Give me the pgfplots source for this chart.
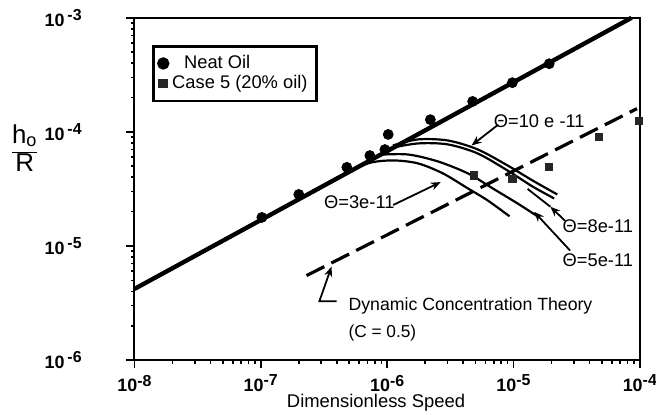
\documentclass[border=0pt]{standalone}
\usepackage{pgfplots}
\pgfplotsset{compat=1.18}
\usepackage{fontspec}
\setmainfont{Liberation Sans}
\usetikzlibrary{arrows.meta}

\newcommand{\fa}{\fontsize{9.2}{11}\selectfont}
\newcommand{\tx}[1]{10\raisebox{0.6ex}{\fontsize{8}{9}\selectfont#1}}
\newcommand{\ty}[1]{10\,\raisebox{0.6ex}{\fontsize{8}{9}\selectfont#1}}

\begin{document}
\begin{tikzpicture}
\begin{axis}[
    width=254pt, height=172pt, scale only axis,
    xmode=log, ymode=log,
    xmin=1e-8, xmax=1e-4, ymin=1e-6, ymax=1e-3,
    axis line style={line width=1pt},
    xtick={1e-8,1e-7,1e-6,1e-5,1e-4},
    xticklabels={\tx{-8},\tx{-7},\tx{-6},\tx{-5},\tx{-4}},
    minor xtick={2e-8,3e-8,4e-8,5e-8,6e-8,7e-8,8e-8,9e-8,
                 2e-7,3e-7,4e-7,5e-7,6e-7,7e-7,8e-7,9e-7,
                 2e-6,3e-6,4e-6,5e-6,6e-6,7e-6,8e-6,9e-6,
                 2e-5,3e-5,4e-5,5e-5,6e-5,7e-5,8e-5,9e-5},
    ytick={1e-6,1e-5,1e-4,1e-3},
    yticklabels={\ty{-6},\ty{-5},\ty{-4},\ty{-3}},
    minor ytick={2e-6,3e-6,4e-6,5e-6,6e-6,7e-6,8e-6,9e-6,
                 2e-5,3e-5,4e-5,5e-5,6e-5,7e-5,8e-5,9e-5,
                 2e-4,3e-4,4e-4,5e-4,6e-4,7e-4,8e-4,9e-4},
    tick label style={font=\fontsize{9}{10}\selectfont\bfseries},
    yticklabel style={xshift=-19pt},
    tick align=outside, xtick pos=bottom, ytick pos=left,
    major tick length=4pt, minor tick length=1.8pt,
    every tick/.style={black, line width=0.8pt},
    legend style={at={(rel axis cs:0.035,0.92)}, anchor=north west,
        draw=black, line width=1.2pt, inner sep=2.5pt, row sep=-2pt,
        font=\fa},
    legend cell align=left,
    clip=false,
]
% theory line for neat oil
\addplot[black, line width=2.2pt, forget plot] coordinates {(1e-8,4.2e-6) (8.6e-5,1e-3)};
% dynamic concentration theory
\addplot[black, line width=1.6pt, dash pattern=on 10pt off 4pt, forget plot]
    coordinates {(2.3e-7,5.5e-6) (9.5e-5,1.6e-4)};
% theta curves
\addplot[black, line width=1.1pt, smooth, forget plot] coordinates {
    (4.1e-7,4.0e-5) (7.08e-7,5.3e-5) (1.11e-6,5.62e-5) (1.75e-6,5.3e-5)
    (2.76e-6,4.33e-5) (4.35e-6,3.2e-5) (6.24e-6,2.51e-5) (9.31e-6,1.82e-5)};
\addplot[black, line width=1.1pt, smooth, forget plot] coordinates {
    (8.49e-7,6.3e-5) (1.46e-6,6.34e-5) (2.52e-6,5.51e-5) (4.35e-6,4.33e-5)
    (6.84e-6,3.2e-5) (1.07e-5,2.37e-5) (1.55e-5,1.82e-5)};
\addplot[black, line width=1.1pt, smooth, forget plot] coordinates {
    (1.02e-6,7.16e-5) (1.75e-6,7.92e-5) (3.02e-6,7.77e-5) (5.21e-6,6.47e-5)
    (8.97e-6,4.59e-5) (1.41e-5,3.33e-5) (2.1e-5,2.61e-5)};
\addplot[black, line width=1.1pt, smooth, forget plot] coordinates {
    (1.11e-6,7.6e-5) (1.75e-6,8.59e-5) (3.02e-6,8.41e-5) (5.21e-6,7.02e-5)
    (8.97e-6,5.08e-5) (1.41e-5,3.76e-5) (2.22e-5,2.83e-5)};
% data
\addplot[only marks, mark=*, mark size=2.5pt, black] coordinates {
    (1.02e-7,1.78e-5) (2.0e-7,2.83e-5) (4.8e-7,4.89e-5) (7.3e-7,6.2e-5)
    (9.6e-7,7.0e-5) (1.02e-6,9.5e-5) (2.2e-6,1.28e-4) (4.75e-6,1.85e-4)
    (9.8e-6,2.7e-4) (1.92e-5,3.96e-4)};
\addlegendentry{\hspace{6pt}Neat Oil}
\addplot[only marks, mark=square*, mark size=1.8pt, black!85] coordinates {
    (4.84e-6,4.16e-5) (9.8e-6,3.9e-5) (1.92e-5,4.97e-5) (4.75e-5,9.1e-5)
    (9.8e-5,1.25e-4)};
\addlegendentry{Case 5 (20\% oil)}

% annotations
\node[font=\fa] at (rel axis cs:0.801,0.698) {Θ=10 e -11};
\draw[-{Stealth[length=5pt,width=4pt]}, line width=0.9pt]
    (rel axis cs:0.720,0.688) -- (rel axis cs:0.667,0.627);
\node[font=\fa] at (rel axis cs:0.445,0.462) {Θ=3e-11};
\draw[-{Stealth[length=5pt,width=4pt]}, line width=0.9pt]
    (rel axis cs:0.512,0.453) -- (rel axis cs:0.606,0.520);
\node[font=\fa] at (rel axis cs:0.917,0.392) {Θ=8e-11};
\draw[-{Stealth[length=5pt,width=4pt]}, line width=0.9pt]
    (rel axis cs:0.852,0.407) -- (rel axis cs:0.823,0.448);
\draw[line width=0.9pt] (rel axis cs:0.823,0.448) -- (rel axis cs:0.778,0.500);
\node[font=\fa] at (rel axis cs:0.917,0.291) {Θ=5e-11};
\draw[-{Stealth[length=5pt,width=4pt]}, line width=0.9pt]
    (rel axis cs:0.862,0.320) -- (rel axis cs:0.791,0.433);
\draw[-{Stealth[length=5pt,width=4pt]}, line width=0.9pt]
    (rel axis cs:0.400,0.172) -- (rel axis cs:0.366,0.172) -- (rel axis cs:0.390,0.273);
\node[anchor=west, inner sep=0pt, font=\fa] at (rel axis cs:0.423,0.157)
    {\resizebox{122.5pt}{!}{Dynamic Concentration Theory}};
\node[anchor=west, inner sep=0pt, font=\fa] at (rel axis cs:0.423,0.078)
    {\resizebox{34pt}{!}{(C = 0.5)}};
\node[inner sep=0pt, font=\fa] at (rel axis cs:0.478,-0.125)
    {\resizebox{89.5pt}{!}{Dimensionless Speed}};
\node[font=\fontsize{13}{14}\selectfont] at (rel axis cs:-0.217,0.608)
    {\begin{tabular}{@{}c@{}}h\textsubscript{o}\\\hline R\end{tabular}};
\coordinate (bbsw) at (rel axis cs:-0.266,-0.160);
\coordinate (bbne) at (rel axis cs:1.032,1.052);
\end{axis}
\pgfresetboundingbox
\path[use as bounding box] (bbsw) rectangle (bbne);
\end{tikzpicture}
\end{document}
